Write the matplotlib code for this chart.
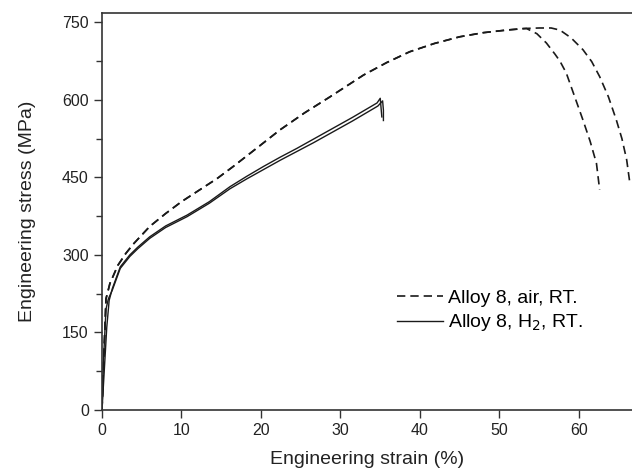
import matplotlib
matplotlib.use("Agg")
import matplotlib.pyplot as plt
from matplotlib.ticker import MultipleLocator

plt.rcParams['font.family'] = ['Liberation Sans', 'DejaVu Sans']

# 試験片データ (読み取り値)
air1_strain = [0, 0.2, 0.5, 1.0, 2.0, 3.0, 4.0, 6.0, 8.0, 10.0, 12.3, 14.5, 16.5,
               19.5, 22.4, 25.5, 28.7, 30.8, 32.9, 35.8, 38.7, 41.8, 45.0, 48.0,
               50.9, 53.0, 55.0, 56.5, 57.6, 59.0, 60.5, 61.6, 62.6, 63.7, 64.7,
               65.4, 66.0, 66.4]
air1_stress = [0, 90, 215, 245, 280, 303, 322, 355, 380, 403, 426, 448, 471,
               507, 542, 575, 606, 627, 648, 672, 693, 709, 722, 730,
               735, 738, 739, 739, 735, 720, 697, 674, 645, 606, 561,
               525, 484, 439]

air2_strain = [0, 0.2, 0.5, 1.0, 2.0, 3.0, 4.0, 6.0, 8.0, 10.0, 12.3, 14.5, 16.5,
               19.5, 22.4, 25.5, 28.7, 30.8, 32.9, 35.8, 38.7, 41.8, 45.0, 48.0,
               50.9, 52.5, 53.4, 54.7, 55.9, 57.0, 57.6, 58.4, 59.3, 60.5, 61.4,
               62.2, 62.6]
air2_stress = [0, 90, 215, 245, 280, 303, 322, 355, 380, 403, 426, 448, 471,
               507, 542, 575, 606, 627, 648, 672, 693, 709, 722, 730,
               735, 737, 738, 728, 710, 688, 675, 652, 613, 561, 520,
               477, 426]

h2a_strain = [0, 0.3, 0.6, 0.9, 1.3, 2.3, 3.5, 4.5, 6.0, 8.0, 10.7, 13.5, 16.1,
              18.2, 20.3, 22.4, 24.5, 26.6, 28.7, 31.5, 34.6, 35.0, 35.1, 35.2]
h2a_stress = [0, 80, 160, 212, 235, 277, 300, 315, 335, 356, 377, 403, 432,
              452, 471, 489, 506, 524, 542, 566, 594, 603, 585, 567]

h2b_strain = [0, 0.2, 0.5, 0.8, 1.3, 2.3, 3.5, 4.5, 6.0, 8.0, 10.7, 13.5, 16.1,
              18.2, 20.3, 22.4, 24.5, 26.6, 28.7, 31.5, 34.7, 35.3, 35.4, 35.4]
h2b_stress = [0, 100, 195, 215, 232, 274, 297, 312, 332, 353, 374, 400, 428,
              447, 465, 483, 500, 517, 535, 559, 588, 598, 580, 560]

labels = ['Alloy 8, air, RT.', 'Alloy 8, H$_2$, RT.']

fig = plt.figure(figsize=(6.32, 4.72), dpi=100)
ax = fig.add_axes([102 / 632, 62 / 472, 530 / 632, 397 / 472])

line_col = '#1a1a1a'
ax.plot(air1_strain, air1_stress, color=line_col, lw=1.2, dashes=(5, 3), label=labels[0])
ax.plot(air2_strain, air2_stress, color=line_col, lw=1.2, dashes=(5, 3))
ax.plot(h2a_strain, h2a_stress, color=line_col, lw=1.0, label=labels[1])
ax.plot(h2b_strain, h2b_stress, color=line_col, lw=1.0)

ax.set_xlim(0, 66.67)
ax.set_ylim(0, 768)
ax.set_xticks([0, 10, 20, 30, 40, 50, 60])
ax.set_yticks([0, 150, 300, 450, 600, 750])
ax.yaxis.set_minor_locator(MultipleLocator(75))

ax.spines['right'].set_visible(False)
for s in ['left', 'bottom', 'top']:
    ax.spines[s].set_color('#333333')
    ax.spines[s].set_linewidth(1.2)

ax.tick_params(axis='both', which='major', direction='out', length=6, width=1.0,
               colors='#333333', labelsize=11.5, labelcolor='#222222')
ax.tick_params(axis='y', which='minor', direction='out', length=4, width=1.0,
               colors='#333333')

ax.set_xlabel('Engineering strain (%)', fontsize=14, color='#222222')
ax.set_ylabel('Engineering stress (MPa)', fontsize=14, color='#222222')
ax.yaxis.set_label_coords(-0.124, 0.5)
ax.xaxis.set_label_coords(0.5, -0.104)

ax.legend(loc='upper left', bbox_to_anchor=(0.556, 0.305), frameon=False,
          fontsize=14, borderpad=0, handlelength=2.4, handletextpad=0.25,
          labelspacing=0.3, borderaxespad=0)

fig.savefig('out.png', dpi=100)
